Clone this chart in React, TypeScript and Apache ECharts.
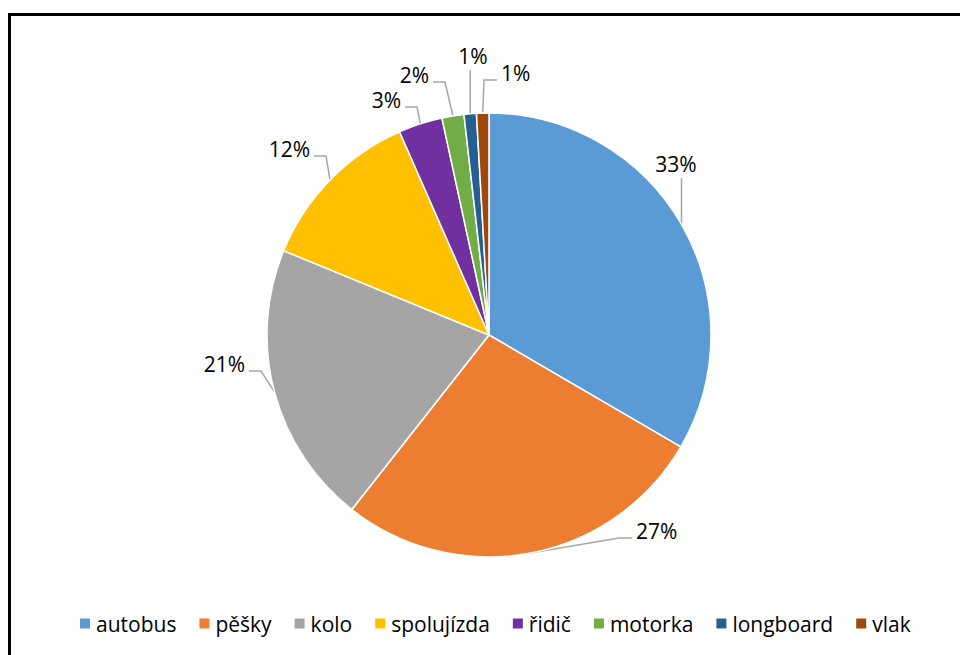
import React, { useEffect, useRef } from "react";
import * as echarts from "echarts";

const categories = ["autobus", "pěšky", "kolo", "spolujízda", "řidič", "motorka", "longboard", "vlak"];
const shares = [33.4, 27.2, 20.6, 12.2, 3.2, 1.6, 0.9, 0.9];
const colors = ["#5B9BD5", "#ED7D31", "#A5A5A5", "#FFC000", "#7030A0", "#70AD47", "#255E91", "#9E480E"];

// label placement (Excel-like): mode, attach point of the leader line
// "above": label sits above the line end (ax = label centre x, ay = line top)
// "right": label to the right of line end; "left": label to the left
const labelModes = ["above", "right", "left", "left", "left", "left", "above", "right"];
const labelAttach: [number, number][] = [
  [676, 178],
  [632, 538],
  [249, 371],
  [314, 156],
  [405, 107],
  [433, 82],
  [473, 70],
  [497, 80],
];

const FONT = "'Open Sans', 'Noto Sans', sans-serif";

export default function App() {
  const ref = useRef<HTMLDivElement>(null);
  useEffect(() => {
    if (!ref.current) return;
    const chart = echarts.init(ref.current, null, { renderer: "svg" });
    chart.setOption({
      animation: false,
      backgroundColor: "#ffffff",
      color: colors,
      textStyle: { fontFamily: FONT },
      graphic: [
        {
          type: "rect",
          shape: { x: 9.5, y: 14.5, width: 2000, height: 2000 },
          style: { fill: "none", stroke: "#000", lineWidth: 3 },
          silent: true,
        },
      ],
      legend: {
        data: categories,
        top: 608,
        left: 73,
        icon: "rect",
        itemWidth: 12,
        itemHeight: 12,
        itemGap: 21,
        textStyle: { fontFamily: FONT, fontSize: 21, color: "#000" },
      },
      series: [
        {
          type: "pie",
          center: [489, 335],
          radius: [0, 222],
          startAngle: 90,
          clockwise: true,
          avoidLabelOverlap: false,
          itemStyle: { borderColor: "#fff", borderWidth: 1.5 },
          label: {
            show: true,
            position: "outside",
            fontFamily: FONT,
            fontSize: 21,
            color: "#000",
            formatter: (p: any) => Math.round(p.percent) + "%",
          },
          labelLine: {
            show: true,
            length: 20,
            length2: 12,
            lineStyle: { color: "#A6A6A6", width: 1.5 },
          },
          labelLayout: (params: any) => {
            const i = params.dataIndex;
            const mode = labelModes[i];
            const [ax, ay] = labelAttach[i];
            const pts = params.labelLinePoints;
            const start = pts && pts[0] ? pts[0] : [ax, ay];
            if (mode === "above") {
              return {
                x: ax,
                y: ay - 14,
                align: "center",
                verticalAlign: "middle",
                labelLinePoints: [start, [start[0], ay], [start[0], ay]],
              };
            }
            if (mode === "right") {
              return {
                x: ax + 4,
                y: ay - 7,
                align: "left",
                verticalAlign: "middle",
                labelLinePoints: [start, [ax - 13, ay], [ax, ay]],
              };
            }
            return {
              x: ax - 4,
              y: ay - 7,
              align: "right",
              verticalAlign: "middle",
              labelLinePoints: [start, [ax + 12, ay], [ax, ay]],
            };
          },
          data: categories.map((c, i) => ({ name: c, value: shares[i] })),
        },
      ],
    });
    return () => chart.dispose();
  }, []);
  return (
    <div
      ref={ref}
      style={{ position: "absolute", left: 0, top: 0, width: 960, height: 655 }}
    />
  );
}
